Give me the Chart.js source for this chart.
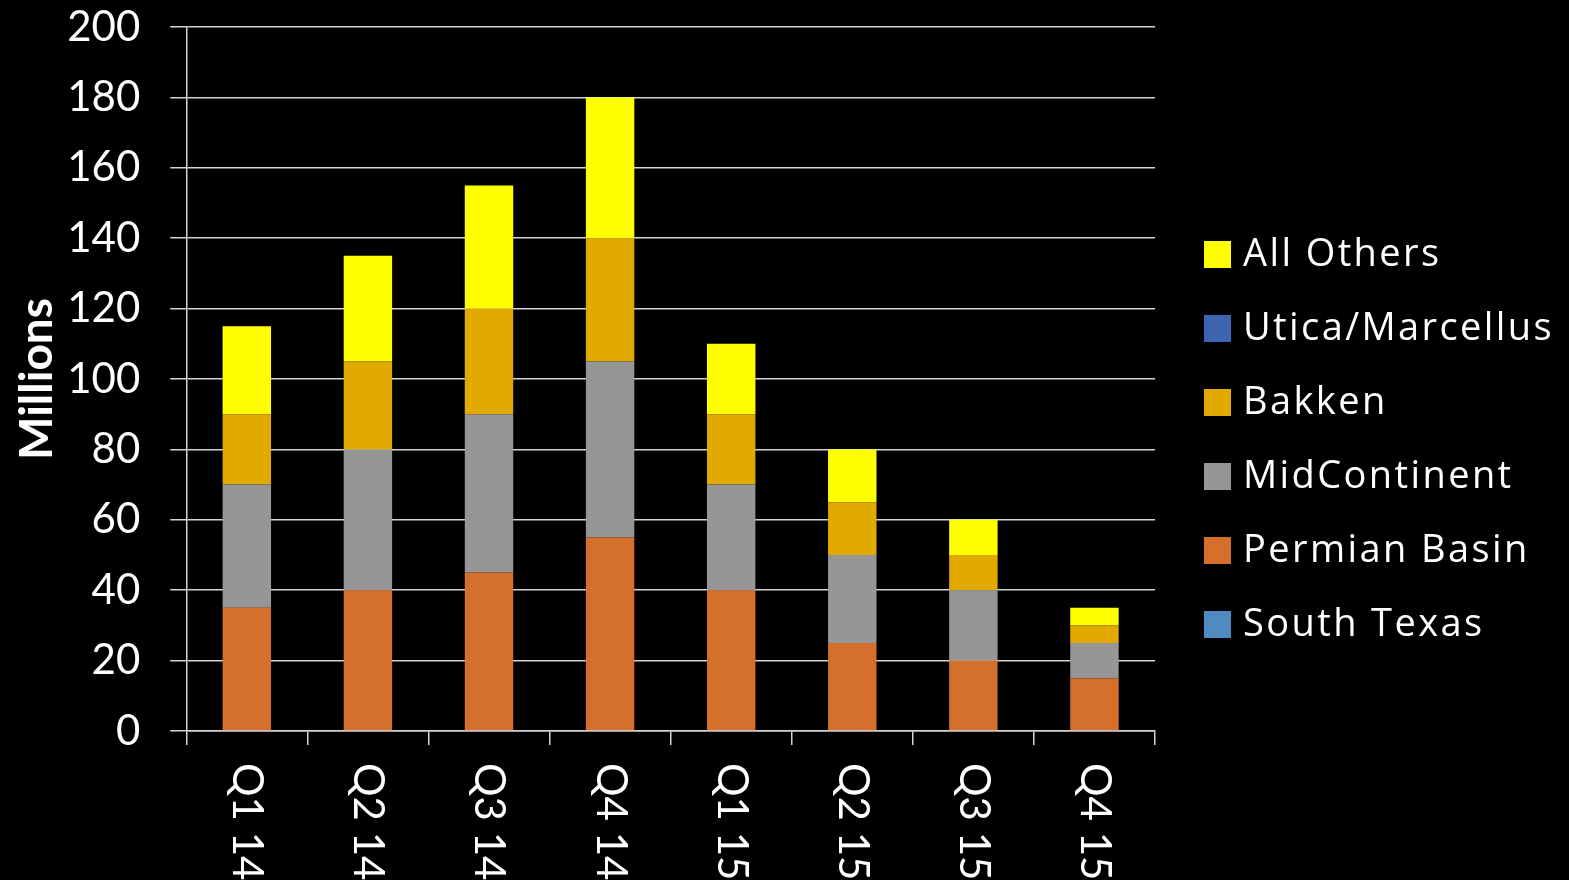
<!DOCTYPE html>
<html>
<head>
<meta charset="utf-8">
<script src="https://cdn.jsdelivr.net/npm/chart.js@4/dist/chart.umd.min.js"></script>
<style>
  html, body { margin: 0; padding: 0; background: #000; }
  #wrap { width: 1569px; height: 880px; position: relative; }
</style>
</head>
<body>
<div id="wrap"><canvas id="grafica"></canvas></div>
<script>
// datos (millones)
const categories = ["Q1 14", "Q2 14", "Q3 14", "Q4 14", "Q1 15", "Q2 15", "Q3 15", "Q4 15"];
const southTexas = [0, 0, 0, 0, 0, 0, 0, 0];
const permianBasin = [35, 40, 45, 55, 40, 25, 20, 15];
const midContinent = [35, 40, 45, 50, 30, 25, 20, 10];
const bakken = [20, 25, 30, 35, 20, 15, 10, 5];
const uticaMarcellus = [0, 0, 0, 0, 0, 0, 0, 0];
const allOthers = [25, 30, 35, 40, 20, 15, 10, 5];
const yTicks = [0, 20, 40, 60, 80, 100, 120, 140, 160, 180, 200];

const FONT = "Lato";
const gridColor = "#d4d4d4";

// etiquetas del eje x giradas 90 grados (se leen de arriba hacia abajo)
const xLabelsPlugin = {
  id: "xLabels",
  afterDraw(chart) {
    const ctx = chart.ctx;
    const x = chart.scales.x;
    ctx.save();
    ctx.fillStyle = "#fff";
    ctx.font = "42px " + FONT;
    ctx.textAlign = "left";
    ctx.textBaseline = "middle";
    chart.data.labels.forEach((lab, i) => {
      ctx.save();
      ctx.translate(x.getPixelForValue(i), chart.chartArea.bottom + 32);
      ctx.rotate(Math.PI / 2);
      ctx.fillText(lab, 0, 0);
      ctx.restore();
    });
    ctx.restore();
  }
};

// leyenda a la derecha, orden invertido
const legendPlugin = {
  id: "sideLegend",
  afterDraw(chart) {
    const ctx = chart.ctx;
    const sets = chart.data.datasets.slice().reverse();
    ctx.save();
    ctx.font = "38px 'Open Sans'";
    ctx.letterSpacing = "2.4px";
    ctx.textAlign = "left";
    ctx.textBaseline = "middle";
    sets.forEach((ds, i) => {
      const cy = 254 + i * 74;
      ctx.fillStyle = ds.backgroundColor;
      ctx.fillRect(1204, cy - 13, 27, 27);
      ctx.fillStyle = "#fff";
      ctx.fillText(ds.label, 1243, cy + 1);
    });
    ctx.restore();
  }
};

const bgPlugin = {
  id: "bg",
  beforeDraw(chart) {
    const ctx = chart.ctx;
    ctx.save();
    ctx.fillStyle = "#000";
    ctx.fillRect(0, 0, chart.width, chart.height);
    ctx.restore();
  }
};

new Chart(document.getElementById("grafica"), {
  type: "bar",
  data: {
    labels: categories,
    datasets: [
      { label: "South Texas", data: southTexas, backgroundColor: "#4f8bc0" },
      { label: "Permian Basin", data: permianBasin, backgroundColor: "#d46f2c" },
      { label: "MidContinent", data: midContinent, backgroundColor: "#969696" },
      { label: "Bakken", data: bakken, backgroundColor: "#e2a900" },
      { label: "Utica/Marcellus", data: uticaMarcellus, backgroundColor: "#3c64b0" },
      { label: "All Others", data: allOthers, backgroundColor: "#ffff00" }
    ]
  },
  options: {
    responsive: true,
    maintainAspectRatio: false,
    animation: false,
    datasets: {
      bar: { categoryPercentage: 1, barPercentage: 0.4, borderWidth: 0 }
    },
    layout: { padding: { top: 27, left: 6, right: 414, bottom: 135 } },
    plugins: {
      legend: { display: false },
      tooltip: { enabled: false }
    },
    scales: {
      x: {
        stacked: true,
        grid: { drawOnChartArea: false, drawTicks: true, tickLength: 14, color: gridColor, lineWidth: 1.5 },
        border: { display: true, color: gridColor, width: 1.5 },
        ticks: { display: false }
      },
      y: {
        stacked: true,
        min: 0,
        max: 200,
        afterBuildTicks: (axis) => { axis.ticks = yTicks.map((v) => ({ value: v })); },
        afterFit: (axis) => {
          axis.width = axis.width - 32;
          axis.paddingTop = 0;
          axis.paddingBottom = 0;
        },
        grid: { color: gridColor, lineWidth: 1.5, tickLength: 16 },
        border: { display: true, color: gridColor, width: 1.5 },
        ticks: { color: "#fff", padding: 30, font: { family: FONT, size: 42 } },
        title: {
          display: true,
          text: "Millions",
          color: "#fff",
          font: { family: FONT, size: 46, weight: "bold" }
        }
      }
    }
  },
  plugins: [bgPlugin, xLabelsPlugin, legendPlugin]
});
</script>
</body>
</html>
